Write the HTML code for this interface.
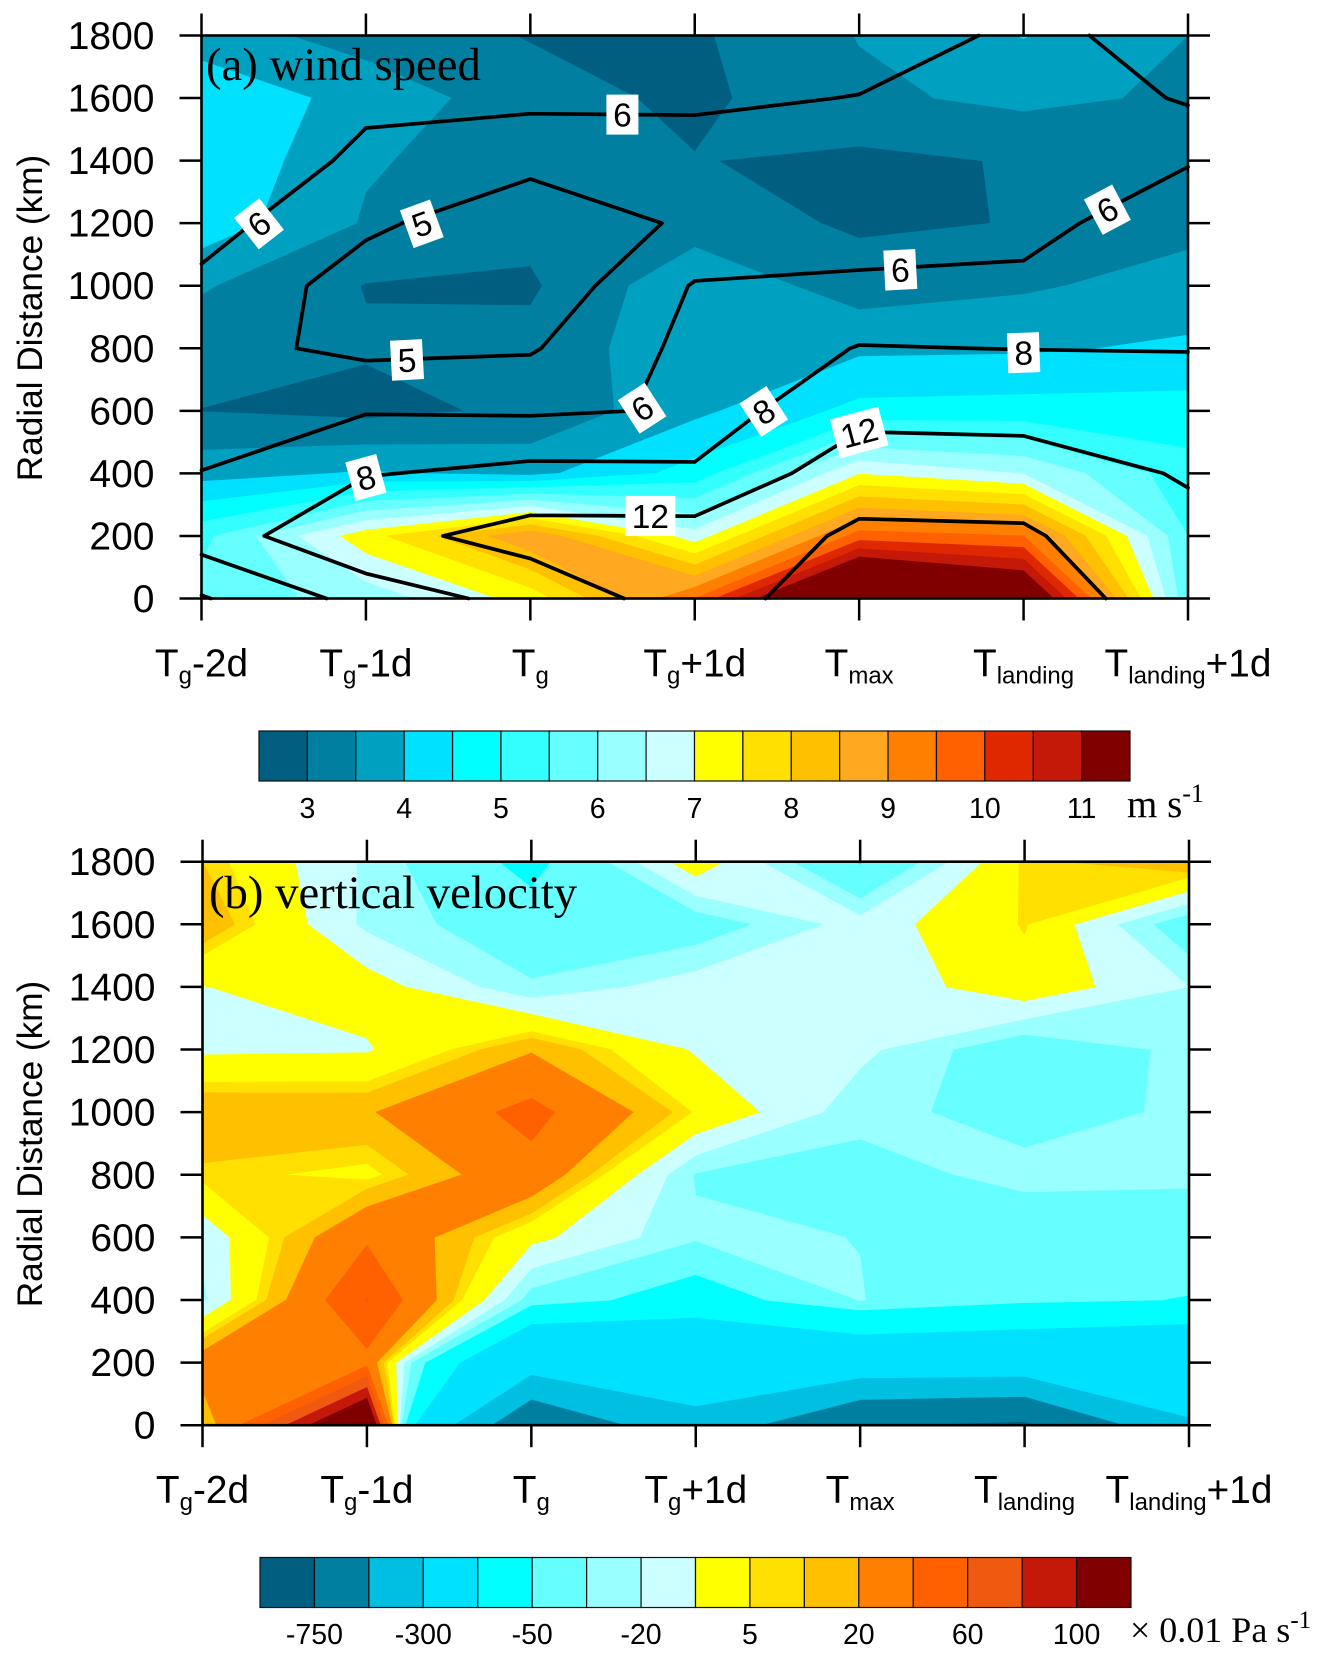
<!DOCTYPE html>
<html lang="en">
<head>
<meta charset="utf-8">
<title>Wind speed and vertical velocity composites</title>
<style>
html,body{margin:0;padding:0;background:#fff;}
svg{display:block;}
text{fill:#000;}
.sans{font-family:"Liberation Sans",sans-serif;}
.serif{font-family:"Liberation Serif",serif;}
</style>
</head>
<body>
<svg id="figure" xmlns="http://www.w3.org/2000/svg" width="1323" height="1660" viewBox="0 0 1323 1660">
  <rect x="0" y="0" width="1323" height="1660" fill="#fff"/>
  <g id="panel-a-layer"></g>
  <g id="panel-b-layer"></g>
  <text class="serif" x="206" y="80" font-size="46.7">(a) wind speed</text>
  <text class="serif" x="209" y="908" font-size="46.7">(b) vertical velocity</text>
  <text class="sans" transform="translate(42 318) rotate(-90)" text-anchor="middle" font-size="35.2">Radial Distance (km)</text>
  <text class="sans" transform="translate(42 1144) rotate(-90)" text-anchor="middle" font-size="35.2">Radial Distance (km)</text>
  <text class="serif" x="1127" y="817" font-size="39">m s<tspan font-size="26" dy="-15">-1</tspan></text>
  <text class="serif" x="1130" y="1642" font-size="36">× 0.01 Pa s<tspan font-size="25" dy="-14">-1</tspan></text>
</svg>
<script>
// Shared axes (x index = time category, y = radial distance in km)
const radialKm = [0, 200, 400, 600, 800, 1000, 1200, 1400, 1600, 1800];
const yTickLabels = ['0', '200', '400', '600', '800', '1000', '1200', '1400', '1600', '1800'];
const timeSub = ['g', 'g', 'g', 'g', 'max', 'landing', 'landing'];
const timeSuffix = ['-2d', '-1d', '', '+1d', '', '', '+1d'];

// Panel (a) shading: wind speed, one array per time, ordered by radialKm
const windSpeedGrid = [
  [5.7, 5.35, 3.8, 2.99, 3.2, 3.55, 4.3, 4.45, 4.4, 3.73],
  [6.2, 7.3, 4.05, 2.85, 3.05, 2.98, 3.45, 3.55, 3.8, 3.3],
  [7.2, 8.9, 3.85, 3.1, 3.15, 2.93, 3.15, 3.25, 3.22, 2.97],
  [9.5, 6.7, 4.7, 3.88, 3.88, 3.88, 3.26, 3.02, 2.88, 2.93],
  [13.5, 9.73, 6.97, 4.65, 3.9, 3.25, 2.92, 2.88, 3.4, 3.52],
  [12.2, 9.5, 6.48, 4.7, 3.93, 3.43, 3.02, 3.04, 3.62, 4.02],
  [5.6, 5.5, 5.2, 4.7, 4.08, 3.7, 3.35, 3.2, 3.42, 3.5]
];
const windLevels = [3, 3.5, 4, 4.5, 5, 5.5, 6, 6.5, 7, 7.5, 8, 8.5, 9, 9.5, 10, 10.5, 11];
const windColors = ['#005f80', '#007fa0', '#00a0c0', '#00e0ff', '#00ffff', '#33ffff', '#66ffff', '#99ffff', '#ccffff', '#ffff00', '#ffe000', '#ffc000', '#ffa820', '#ff8000', '#ff6000', '#e02800', '#c41808', '#800000'];
const windBarLabels = ['3', '4', '5', '6', '7', '8', '9', '10', '11'];

// Panel (a) line contours: second field, same grid
const lineFieldGrid = [
  [4.92, 6.46, 6.02, 5.6, 5.3, 5.8, 6.37, 7.0, 7.3, 7.2],
  [6.34, 10.5, 7.87, 5.89, 4.78, 4.55, 5.17, 5.75, 6.23, 6.6],
  [9, 13.7, 8.55, 5.78, 4.91, 4.3, 4.4, 5.25, 6.25, 6.8],
  [14.26, 13.65, 8.42, 6.13, 6.27, 6.07, 5.15, 5.2, 6.3, 6.9],
  [18.3, 16.57, 14.5, 10.74, 8.1, 6.2, 5.4, 5.3, 5.95, 6.8],
  [19.5, 16.41, 14.4, 10.4, 7.95, 6.47, 5.3, 5.2, 5.87, 5.7],
  [12.5, 13.4, 11.58, 9.6, 7.9, 7.4, 7.35, 5.85, 6.02, 6.45]
];
const lineLevels = [5, 6, 8, 12, 16];
const lineLabelText = ['6', '5', '5', '6', '6', '6', '6', '8', '8', '12', '12', '8'];
const lineLabelTime = [0.35, 1.34, 1.25, 2.56, 2.68, 4.25, 5.51, 5.0, 3.42, 4.0, 2.73, 1.0];
const lineLabelKm = [1198, 1198, 763, 1547, 608, 1051, 1243, 786, 598, 531, 264, 387];
const lineLabelAngle = [-38, -20, -3, 0, -33, -3, -28, -2, -33, -15, 0, -15];

// Panel (b) shading: vertical velocity (x 0.01 Pa/s), one array per time
const omegaGrid = [
  [7.8, 29.4, -22.6, -17, 7.8, 19.3, -10.6, -8.3, 18, 10],
  [150, 34, 61, 37, 2, 18.5, -9.4, -1.8, -22.7, -22],
  [-710, -204, -36, -4.5, 33, 46, 18.5, -28.5, -40, -57],
  [-348, -191, -65, -28, -31, 4, -9.5, -14, -38, 1],
  [-738, -158, -29.5, -30.2, -34, -27, -17, -18, -15, -52],
  [-787, -164, -45, -38, -27, -34, -40, 1, 5.8, 7],
  [-318, -180, -51, -38, -27.8, -28.5, -27, -20, -40, 20]
];
const omegaLevels = [-750, -500, -300, -100, -50, -30, -20, -8, 5, 10, 20, 40, 60, 80, 100];
const omegaColors = ['#005f80', '#007fa0', '#00bfe0', '#00e0ff', '#00ffff', '#66ffff', '#99ffff', '#ccffff', '#ffff00', '#ffe000', '#ffc000', '#ff8000', '#ff6000', '#f05a10', '#c41808', '#800000'];
const omegaBarLabels = ['-750', '-300', '-50', '-20', '5', '20', '60', '100'];

const SVG_NS = 'http://www.w3.org/2000/svg';

function mk(parent, tag, attrs, text) {
  const el = document.createElementNS(SVG_NS, tag);
  Object.keys(attrs).forEach(function (k) { el.setAttribute(k, attrs[k]); });
  if (text !== undefined) el.textContent = text;
  parent.appendChild(el);
  return el;
}

function makeAxes(box) {
  return {
    x: function (t) { return box.left + t * (box.right - box.left) / (timeSub.length - 1); },
    y: function (km) {
      const maxKm = radialKm[radialKm.length - 1];
      return box.bottom - km / maxKm * (box.bottom - box.top);
    }
  };
}

// Corners of grid cell i,j in data space, walked around the quad
function cellCorners(grid, i, j) {
  return [
    [i, radialKm[j], grid[i][j]],
    [i + 1, radialKm[j], grid[i + 1][j]],
    [i + 1, radialKm[j + 1], grid[i + 1][j + 1]],
    [i, radialKm[j + 1], grid[i][j + 1]]
  ];
}

function edgeCross(a, b, level) {
  const t = (level - a[2]) / (b[2] - a[2]);
  return [a[0] + t * (b[0] - a[0]), a[1] + t * (b[1] - a[1])];
}

// Path of the region where the field >= level
function regionPath(grid, level, axes) {
  let d = '';
  for (let i = 0; i < grid.length - 1; i++) {
    for (let j = 0; j < radialKm.length - 1; j++) {
      const c = cellCorners(grid, i, j);
      const pts = [];
      for (let k = 0; k < 4; k++) {
        const a = c[k], b = c[(k + 1) % 4];
        const aIn = a[2] >= level, bIn = b[2] >= level;
        if (aIn) pts.push([a[0], a[1]]);
        if (aIn !== bIn) pts.push(edgeCross(a, b, level));
      }
      if (pts.length > 2) {
        d += 'M' + pts.map(function (p) {
          return axes.x(p[0]).toFixed(2) + ' ' + axes.y(p[1]).toFixed(2);
        }).join('L') + 'Z';
      }
    }
  }
  return d;
}

// Path of the isoline at a level
function linePath(grid, level, axes) {
  let d = '';
  for (let i = 0; i < grid.length - 1; i++) {
    for (let j = 0; j < radialKm.length - 1; j++) {
      const c = cellCorners(grid, i, j);
      const hits = [];
      for (let k = 0; k < 4; k++) {
        const a = c[k], b = c[(k + 1) % 4];
        if ((a[2] >= level) !== (b[2] >= level)) hits.push(edgeCross(a, b, level));
      }
      for (let h = 0; h + 1 < hits.length; h += 2) {
        d += 'M' + axes.x(hits[h][0]).toFixed(2) + ' ' + axes.y(hits[h][1]).toFixed(2) +
             'L' + axes.x(hits[h + 1][0]).toFixed(2) + ' ' + axes.y(hits[h + 1][1]).toFixed(2);
      }
    }
  }
  return d;
}

function drawShading(g, grid, levels, colors, axes, box) {
  const base = mk(g, 'rect', { x: box.left, y: box.top, width: box.right - box.left, height: box.bottom - box.top, fill: colors[0] });
  
  
  levels.forEach(function (level, idx) {
    const d = regionPath(grid, level, axes);
    if (!d) return;
    const band = mk(g, 'path', { d: d, fill: colors[idx + 1], stroke: colors[idx + 1], 'stroke-width': 0.7, 'stroke-linejoin': 'round' });
    
    
  });
}

function drawLines(g, grid, levels, axes) {
  levels.forEach(function (level) {
    const line = mk(g, 'path', { d: linePath(grid, level, axes), fill: 'none', stroke: '#000', 'stroke-width': 3.7, 'stroke-linejoin': 'round', 'stroke-linecap': 'round' });
    
    
  });
}

function drawLineLabels(g, axes) {
  lineLabelText.forEach(function (txt, i) {
    const w = txt.length > 1 ? 50 : 32;
    const group = mk(g, 'g', { transform: 'translate(' + axes.x(lineLabelTime[i]).toFixed(1) + ' ' + axes.y(lineLabelKm[i]).toFixed(1) + ') rotate(' + lineLabelAngle[i] + ')' });
    
    
    mk(group, 'rect', { x: -w / 2, y: -20, width: w, height: 40, fill: '#fff' });
    mk(group, 'text', { class: 'sans', x: 0, y: 12, 'text-anchor': 'middle', 'font-size': 33.5 }, txt);
  });
}

function drawFrame(g, axes, box) {
  const tickLen = 22;
  const ticks = mk(g, 'g', { stroke: '#000', 'stroke-width': 2.5 });
  
  
  timeSub.forEach(function (s, i) {
    const px = axes.x(i);
    mk(ticks, 'line', { x1: px, x2: px, y1: box.bottom, y2: box.bottom + tickLen });
    mk(ticks, 'line', { x1: px, x2: px, y1: box.top, y2: box.top - tickLen });
  });
  radialKm.forEach(function (km) {
    const py = axes.y(km);
    mk(ticks, 'line', { x1: box.left, x2: box.left - tickLen, y1: py, y2: py });
    mk(ticks, 'line', { x1: box.right, x2: box.right + tickLen, y1: py, y2: py });
  });
  const frame = mk(g, 'rect', { x: box.left, y: box.top, width: box.right - box.left, height: box.bottom - box.top, fill: 'none', stroke: '#000', 'stroke-width': 2.6 });
  
  

  yTickLabels.forEach(function (lab, i) {
    const t = mk(g, 'text', { class: 'sans', x: box.left - 47, y: axes.y(radialKm[i]) + 13.5, 'text-anchor': 'end', 'font-size': 39 }, lab);
    
    
  });
  timeSub.forEach(function (sub, i) {
    const t = mk(g, 'text', { class: 'sans', x: axes.x(i), y: box.bottom + 78, 'text-anchor': 'middle', 'font-size': 38.8 });
    
    
    mk(t, 'tspan', {}, 'T');
    mk(t, 'tspan', { 'font-size': 24, dy: 7 }, sub);
    if (timeSuffix[i]) mk(t, 'tspan', { dy: -7 }, timeSuffix[i]);
  });
}

function drawColorbar(g, box, colors, labels) {
  const boxW = (box.right - box.left) / colors.length;
  colors.forEach(function (col, i) {
    const r = mk(g, 'rect', { x: box.left + i * boxW, y: box.top, width: boxW, height: box.bottom - box.top, fill: col, stroke: '#111', 'stroke-width': 1.2 });
    
    
  });
  labels.forEach(function (lab, i) {
    const t = mk(g, 'text', { class: 'sans', x: box.left + (2 * i + 1) * boxW, y: box.labelY, 'text-anchor': 'middle', 'font-size': 28.5 }, lab);
    
    
  });
}

// Panel (a)
const boxA = { left: 201.5, right: 1188, top: 35.5, bottom: 598.5 };
const axesA = makeAxes(boxA);
const layerA = document.getElementById('panel-a-layer');
drawShading(layerA, windSpeedGrid, windLevels, windColors, axesA, boxA);
drawLines(layerA, lineFieldGrid, lineLevels, axesA);
drawLineLabels(layerA, axesA);
drawFrame(layerA, axesA, boxA);
drawColorbar(layerA, { left: 259, right: 1130, top: 731, bottom: 781, labelY: 818 }, windColors, windBarLabels);

// Panel (b)
const boxB = { left: 202.5, right: 1189, top: 861.7, bottom: 1425.2 };
const axesB = makeAxes(boxB);
const layerB = document.getElementById('panel-b-layer');
drawShading(layerB, omegaGrid, omegaLevels, omegaColors, axesB, boxB);
drawFrame(layerB, axesB, boxB);
drawColorbar(layerB, { left: 260, right: 1131, top: 1557.5, bottom: 1607.5, labelY: 1644 }, omegaColors, omegaBarLabels);
</script>
</body>
</html>
